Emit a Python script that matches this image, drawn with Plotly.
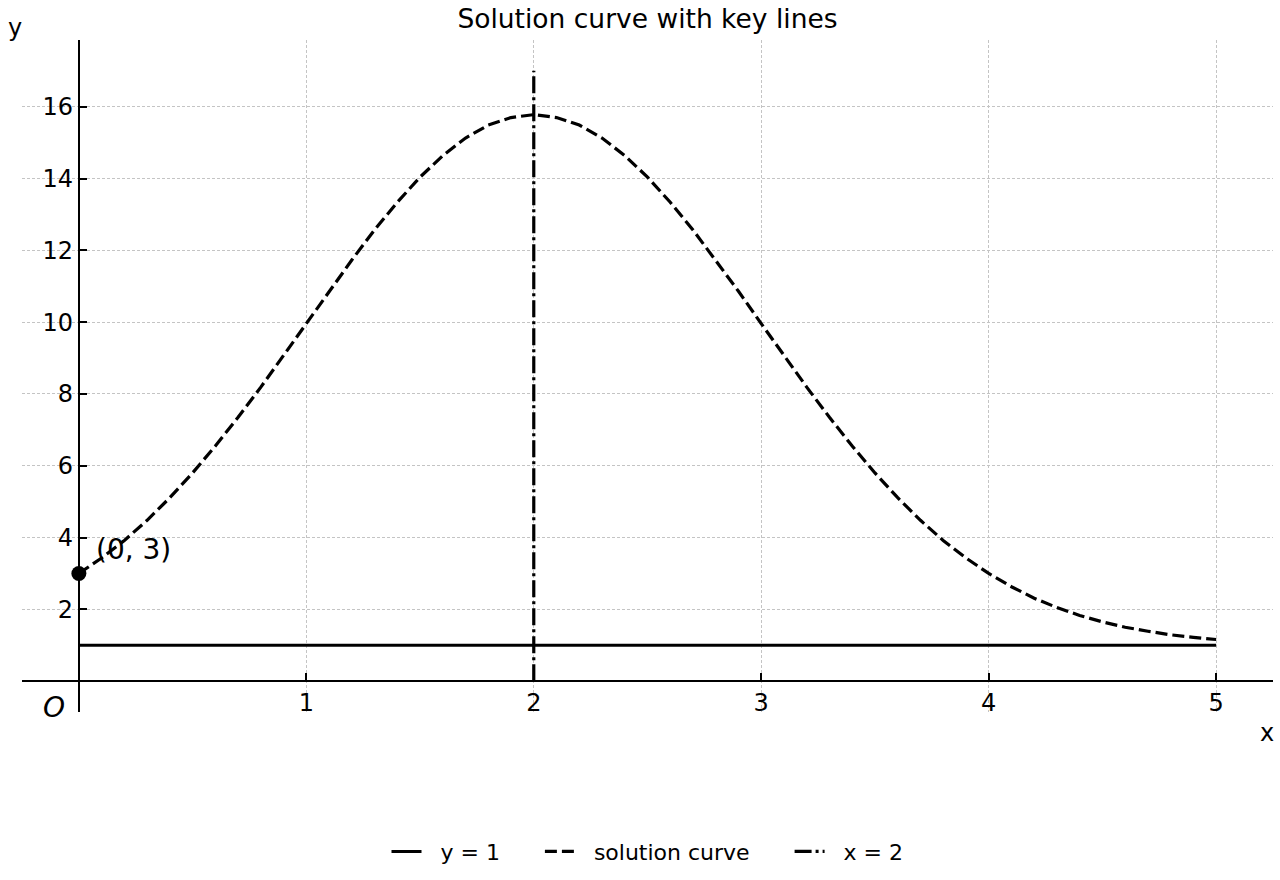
import plotly.graph_objects as go

# Solution curve values
x_curve = [0.0, 0.1, 0.2, 0.3, 0.4, 0.5, 0.6, 0.7, 0.8, 0.9, 1.0,
           1.1, 1.2, 1.3, 1.4, 1.5, 1.6, 1.7, 1.8, 1.9, 2.0,
           2.1, 2.2, 2.3, 2.4, 2.5, 2.6, 2.7, 2.8, 2.9, 3.0,
           3.1, 3.2, 3.3, 3.4, 3.5, 3.6, 3.7, 3.8, 3.9, 4.0,
           4.1, 4.2, 4.3, 4.4, 4.5, 4.6, 4.7, 4.8, 4.9, 5.0]
y_curve = [3.00, 3.43, 3.92, 4.48, 5.11, 5.80, 6.55, 7.35, 8.19, 9.07, 9.96,
           10.86, 11.73, 12.57, 13.34, 14.04, 14.64, 15.13, 15.49, 15.70, 15.78,
           15.70, 15.49, 15.13, 14.64, 14.04, 13.34, 12.57, 11.73, 10.86, 9.96,
           9.07, 8.19, 7.35, 6.55, 5.80, 5.11, 4.48, 3.92, 3.43, 3.00,
           2.63, 2.31, 2.05, 1.83, 1.65, 1.50, 1.39, 1.29, 1.22, 1.16]

# Key lines
asymptote_x = [0, 5]
asymptote_y = [1, 1]
vline_x = [2, 2]
vline_y = [0, 17]
point_x = [0]
point_y = [3]
point_label = "(0, 3)"

x_ticks = [1, 2, 3, 4, 5]
y_ticks = [2, 4, 6, 8, 10, 12, 14, 16]
x_range = [-0.25, 5.25]
y_range = [-0.86, 17.86]

FONT = "DejaVu Sans"
W, H = 1280, 880
ML, MR, MT, MB = 22, 7, 40, 166
PW, PH = W - ML - MR, H - MT - MB


def px_to_paper(px, py):
    return (px - ML) / PW, (H - MB - py) / PH


PRE = "\u00a0" * 2
PAD = "\u00a0" * 5

fig = go.Figure()
fig.add_trace(go.Scatter(x=asymptote_x, y=asymptote_y, mode="lines", name=PRE + "y = 1" + PAD,
                         line=dict(color="black", width=3)))
fig.add_trace(go.Scatter(x=x_curve, y=y_curve, mode="lines", name=PRE + "solution curve" + PAD,
                         line=dict(color="black", width=3.2, dash="12px,5px")))
fig.add_trace(go.Scatter(x=vline_x, y=vline_y, mode="lines", name=PRE + "x = 2",
                         line=dict(color="black", width=3.2, dash="17px,4px,3px,4px")))
fig.add_trace(go.Scatter(x=point_x, y=point_y, mode="markers", showlegend=False,
                         marker=dict(color="black", size=15)))

x0_frac = (0 - x_range[0]) / (x_range[1] - x_range[0])
y0_frac = (0 - y_range[0]) / (y_range[1] - y_range[0])

axis_common = dict(showline=True, linecolor="black", linewidth=2,
                   ticks="inside", ticklen=7, tickwidth=2, tickcolor="black",
                   showgrid=True, gridcolor="#c4c4c4", gridwidth=1, griddash="3px,2px",
                   zeroline=False, tickfont=dict(size=24, family=FONT), anchor="free")

fig.update_layout(
    width=W, height=H,
    margin=dict(l=ML, r=MR, t=MT, b=MB),
    plot_bgcolor="white", paper_bgcolor="white",
    font=dict(family=FONT, size=22, color="black"),
    title=dict(text="Solution curve with key lines", x=0.5, xref="paper", xanchor="center",
               y=1 - 19 / H, yanchor="middle", font=dict(size=26.5, family=FONT)),
    xaxis=dict(range=x_range, tickvals=x_ticks, ticktext=[str(v) for v in x_ticks],
               position=y0_frac, **axis_common),
    yaxis=dict(range=y_range, tickvals=y_ticks, ticktext=[str(v) for v in y_ticks],
               position=x0_frac, **axis_common),
    legend=dict(orientation="h", x=0.5, xanchor="center", y=px_to_paper(0, 854)[1],
                yanchor="middle", font=dict(size=22), bgcolor="rgba(0,0,0,0)"),
    showlegend=True,
)

fig.add_annotation(x=point_x[0], y=point_y[0], text=point_label, showarrow=False,
                   xanchor="left", yanchor="middle", xshift=15, yshift=24,
                   font=dict(size=28, family=FONT))
fig.add_annotation(x=0, y=0, xref="x", yref="y", text="<i>O</i>", showarrow=False,
                   xanchor="right", yanchor="top", xshift=-12, yshift=-8,
                   font=dict(size=28, family=FONT))
yx, yy = px_to_paper(15, 28)
fig.add_annotation(x=yx, y=yy, xref="paper", yref="paper", text="y",
                   showarrow=False, xanchor="center", yanchor="middle",
                   font=dict(size=24, family=FONT))
xx, xy = px_to_paper(1267, 735)
fig.add_annotation(x=xx, y=xy, xref="paper", yref="paper", text="x",
                   showarrow=False, xanchor="center", yanchor="middle",
                   font=dict(size=24, family=FONT))

fig.write_html("out.html")
